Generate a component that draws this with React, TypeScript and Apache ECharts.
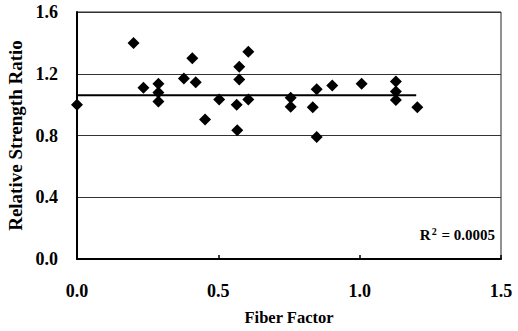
import React, { useEffect, useRef } from "react";
import * as echarts from "echarts";

const fiberFactor = [
  0.0, 0.2, 0.235, 0.288, 0.288, 0.288, 0.378, 0.408, 0.42, 0.453,
  0.503, 0.574, 0.574, 0.565, 0.567, 0.606, 0.606, 0.756, 0.756, 0.848,
  0.834, 0.848, 0.903, 1.007, 1.128, 1.128, 1.128, 1.204,
];
const strengthRatio = [
  1.0, 1.4, 1.11, 1.136, 1.078, 1.02, 1.17, 1.3, 1.145, 0.903,
  1.033, 1.245, 1.162, 1.0, 0.834, 1.342, 1.033, 1.045, 0.987, 1.1,
  0.983, 0.79, 1.124, 1.136, 1.15, 1.085, 1.03, 0.983,
];
const trendX = [0.0, 1.2];
const trendY = [1.06, 1.06];
const xTicks = { min: 0, max: 1.5, interval: 0.5 };
const yTicks = { min: 0, max: 1.6, interval: 0.4 };
const xTitle = "Fiber Factor";
const yTitle = "Relative Strength Ratio";
const rSquared = "0.0005";

const FONT = "'Liberation Serif', 'Times New Roman', serif";

export default function App() {
  const ref = useRef<HTMLDivElement>(null);
  useEffect(() => {
    if (!ref.current) return;
    const chart = echarts.init(ref.current, undefined, { renderer: "svg" });
    chart.setOption({
      animation: false,
      backgroundColor: "#ffffff",
      grid: {
        left: 77,
        top: 12,
        right: 17,
        bottom: 72,
        containLabel: false,
        outerBoundsMode: "none",
        show: true,
        borderColor: "#222",
        borderWidth: 1,
        backgroundColor: "transparent",
      },
      xAxis: {
        type: "value",
        min: xTicks.min,
        max: xTicks.max,
        interval: xTicks.interval,
        name: xTitle,
        nameLocation: "middle",
        nameGap: 50,
        nameTextStyle: { fontFamily: FONT, fontWeight: "bold", fontSize: 16.5, color: "#000" },
        axisLine: { show: true, lineStyle: { color: "#000", width: 2 } },
        axisTick: { show: true, inside: true, length: 4, lineStyle: { color: "#000", width: 1.5 } },
        splitLine: { show: false },
        axisLabel: {
          margin: 23,
          fontFamily: FONT,
          fontWeight: "bold",
          fontSize: 18,
          color: "#000",
          formatter: (v: number) => v.toFixed(1),
        },
      },
      yAxis: {
        type: "value",
        min: yTicks.min,
        max: yTicks.max,
        interval: yTicks.interval,
        name: yTitle,
        nameLocation: "middle",
        nameGap: 46,
        nameTextStyle: { fontFamily: FONT, fontWeight: "bold", fontSize: 19, color: "#000" },
        axisLine: { show: true, lineStyle: { color: "#000", width: 2 } },
        axisTick: { show: false },
        splitLine: { show: true, lineStyle: { color: "#333", width: 1 } },
        axisLabel: {
          margin: 19,
          fontFamily: FONT,
          fontWeight: "bold",
          fontSize: 18,
          color: "#000",
          formatter: (v: number) => v.toFixed(1),
        },
      },
      series: [
        {
          type: "line",
          data: trendX.map((x, i) => [x, trendY[i]]),
          showSymbol: false,
          symbol: "none",
          lineStyle: { color: "#000", width: 2 },
          z: 2,
        },
        {
          type: "scatter",
          data: fiberFactor.map((x, i) => [x, strengthRatio[i]]),
          symbol: "diamond",
          symbolSize: 12,
          itemStyle: { color: "#000", opacity: 1 },
          z: 3,
        },
      ],
      graphic: [
        {
          type: "text",
          x: 495,
          y: 235,
          style: {
            text: "{r|R}{s|2}{r| = " + rSquared + "}",
            align: "right",
            verticalAlign: "middle",
            rich: {
              r: { fontFamily: FONT, fontWeight: "bold", fontSize: 15, fill: "#000" },
              s: {
                fontFamily: FONT,
                fontWeight: "bold",
                fontSize: 10,
                fill: "#000",
                verticalAlign: "top",
                padding: [0, 1, 8, 1],
              },
            },
          },
        },
      ],
    });
    return () => chart.dispose();
  }, []);
  return (
    <div
      ref={ref}
      style={{ position: "fixed", left: 0, top: 0, width: 518, height: 331 }}
    />
  );
}
